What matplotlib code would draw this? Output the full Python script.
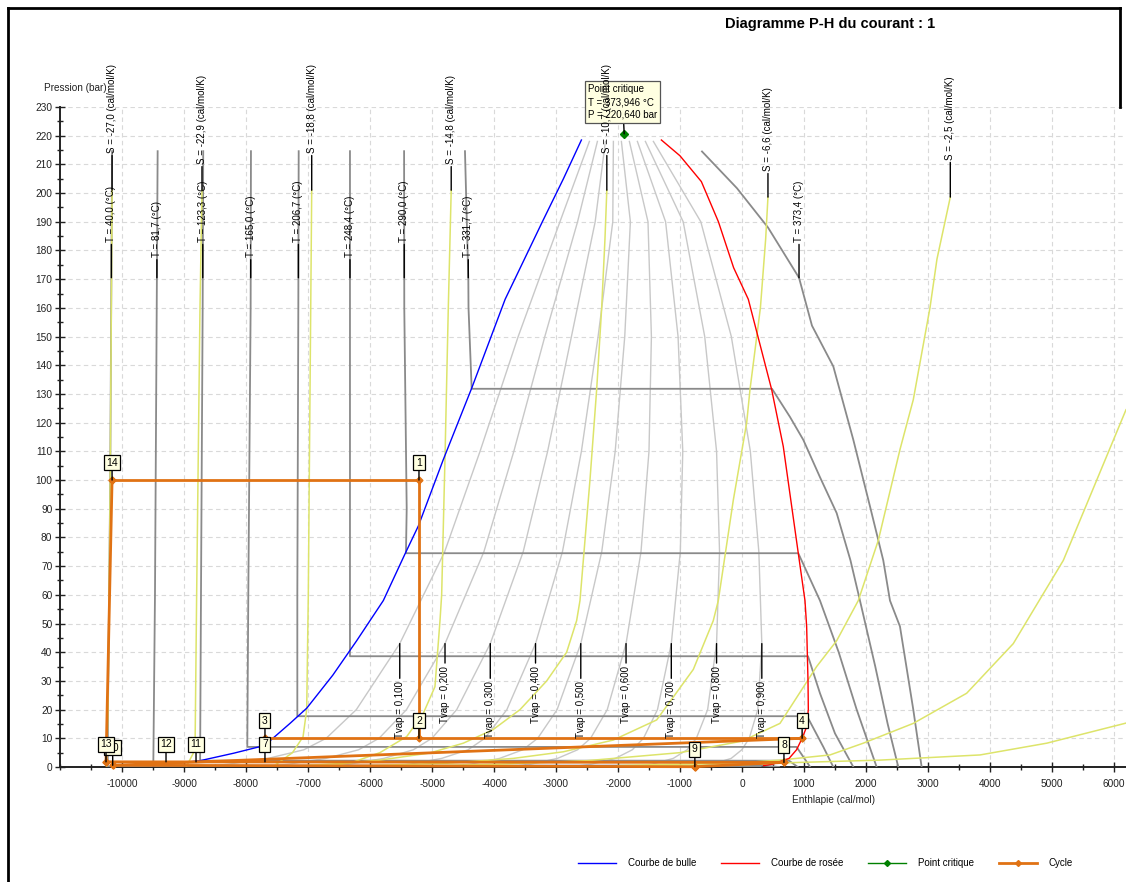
import numpy as np
import matplotlib.pyplot as plt
from matplotlib.lines import Line2D

plt.rcParams['font.family'] = ['Liberation Sans', 'DejaVu Sans']
plt.rcParams['axes.unicode_minus'] = False

# courbe de bulle / courbe de rosee (H en cal/mol, P en bar)
bulle_H = [-9500, -9120, -8740, -8200, -7700, -7290, -7020, -6600, -6215, -5785,
           -5430, -5220, -4820, -4360, -3820, -3220, -2880, -2590]
bulle_P = [0.5, 1.3, 2.2, 4.8, 7.5, 15.2, 20.5, 32, 44, 58,
           74.5, 84, 107, 132, 163, 190, 205, 218.5]
rosee_H = [350, 500, 760, 880, 970, 1043, 1070, 1065, 1043, 1016,
           908, 666, 479, 102, -135, -380, -655, -1000, -1300]
rosee_P = [0.5, 1.0, 3.0, 6.0, 10, 14, 20, 30, 49, 58,
           74.5, 111.7, 131.5, 163, 174, 190, 204, 213, 218.5]

crit_H = -1900
crit_P = 220.64

# lignes de titre vapeur
tvap = ['0,100', '0,200', '0,300', '0,400', '0,500', '0,600', '0,700', '0,800', '0,900']
tvap_P = [0.5, 1, 3, 6, 10, 20, 43, 75, 110, 150, 190, 218]
tvap_H = [
    [-8515, -8275, -7646, -7067, -6707, -6220, -5520, -4796, -4225, -3610, -2936, -2461],
    [-7530, -7300, -6712, -6184, -5854, -5411, -4790, -4163, -3680, -3180, -2652, -2332],
    [-6545, -6325, -5778, -5301, -5001, -4601, -4060, -3529, -3135, -2751, -2368, -2203],
    [-5560, -5350, -4844, -4418, -4148, -3792, -3330, -2896, -2590, -2321, -2084, -2074],
    [-4575, -4375, -3910, -3535, -3295, -2982, -2600, -2262, -2045, -1891, -1800, -1945],
    [-3590, -3400, -2976, -2652, -2442, -2173, -1870, -1629, -1500, -1461, -1516, -1816],
    [-2605, -2425, -2042, -1769, -1589, -1363, -1140, -995, -955, -1031, -1232, -1687],
    [-1620, -1450, -1108, -886, -736, -554, -410, -362, -410, -601, -948, -1558],
    [-635, -475, -174, -3, 117, 255, 320, 272, 135, -172, -664, -1429],
]

# isothermes
iso_T = ['40,0', '81,7', '123,3', '165,0', '206,7', '248,4', '290,0', '331,7', '373,4']
iso_H = [
    [-10160, -10190, -10226, -10230, 300],
    [-9425, -9440, -9468, -9495, 350, 600],
    [-8690, -8699, -8726, -8740, 760, 900],
    [-7920, -7925, -7963, -7979, 880, 1100],
    [-7150, -7156, -7172, -7172, 1050, 1312, 1473],
    [-6323, -6323, -6323, -6323, 1065, 1258, 1500, 1796],
    [-5450, -5447, -5408, -5420, 908, 1258, 1560, 1850, 2172],
    [-4468, -4414, -4411, -4360, 484, 774, 989, 1258, 1527, 1750, 1903, 2150, 2350, 2521],
    [-645, -81, 420, 920, 1129, 1473, 1796, 2065, 2279, 2387, 2548, 2763, 2898],
]
iso_P = [
    [214.6, 100, 20, 0.07, 0.07],
    [214.6, 160, 60, 0.5, 0.5, 0],
    [214.6, 160, 60, 2.2, 2.2, 0],
    [214.6, 160, 60, 7.0, 7.0, 0],
    [214.6, 160, 60, 17.7, 17.7, 7, 0],
    [214.6, 160, 60, 38.6, 38.6, 25.7, 11.7, 0],
    [214.6, 160, 90, 74.5, 74.5, 58, 40, 20, 0],
    [214.6, 170, 160, 131.8, 131.8, 122, 114, 101, 88.5, 72, 58, 35, 15, 0],
    [214.5, 201.7, 188, 170.5, 153.8, 139.6, 114, 90.8, 72, 58, 49, 20, 0],
]

# isentropes (None = sans etiquette)
ise_S = ['-27,0', '-22,9', '-18,8', '-14,8', '-10,7', '-6,6', '-2,5', None, None]
ise_H = [
    [-10160, -10190, -10226, -10250],
    [-8710, -8742, -8796, -8822, -8960],
    [-6940, -6995, -7021, -7080, -7250, -7560],
    [-4690, -4737, -4790, -4844, -4871, -4952, -5140, -5408, -5840, -6300, -6700],
    [-2180, -2210, -2263, -2344, -2452, -2613, -2667, -2828, -3150, -3580, -4016,
     -4495, -5032, -5839, -6500, -7200],
    [419, 382, 297, 129, 76, -140, -382, -463, -785, -1376, -2075, -2882, -3688,
     -4763, -6000, -7500],
    [3360, 3145, 3032, 2763, 2548, 2199, 1876, 1527, 1204, 613, 0, -1000, -2500,
     -4000, -5500],
    [6194, 5183, 4376, 3624, 2763, 1956, 1419, 613, 0, -2000],
    [6194, 4916, 3839, 2226, 613, 0, -2000],
]
ise_P = [
    [201, 100, 20, 0.2],
    [201, 160, 60, 6, 0.2],
    [201, 60, 20, 10.5, 5, 0.2],
    [201, 160, 108, 60, 51, 28, 18.7, 10.6, 5, 1.5, 0.2],
    [201, 184, 160, 131.5, 100, 58, 51, 40, 30, 20, 13, 8.3, 4.9, 2.4, 1.2, 0.3],
    [198.6, 184, 160, 131.5, 120, 93, 58, 51, 34, 16.4, 9.4, 5.3, 3, 1.3, 0.5, 0.1],
    [198.6, 177, 160, 128, 110.6, 79, 58, 44, 35, 15.2, 9, 5, 2.2, 0.9, 0.3],
    [124.5, 72, 43, 25.7, 15.2, 8.3, 4.2, 2.4, 1.5, 0.5],
    [15.3, 8.3, 4.2, 2.4, 1.4, 0.8, 0.3],
]

# cycle
cycle_num = ['1', '2', '3', '4', '7', '8', '9', '10', '11', '12', '13', '14']
cycle_H = [-5210, -5210, -7694, 970, -7694, 677, -760, -10150, -8806, -9290, -10258, -10160]
cycle_P = [100, 10, 10, 10, 1.8, 1.6, 0.1, 0.6, 1.8, 1.8, 1.8, 100]
cycle_seg = [['14', '1', '2'], ['3', '4'], ['4', '10'], ['8', '13'],
             ['14', '13'], ['8', '9'], ['9', '10']]

fig = plt.figure(figsize=(11.26, 8.82), dpi=100)
ax = fig.add_axes([60 / 1126, 115 / 882, 1066 / 1126, 660 / 882])
ax.set_xlim(-11000, 6194)
ax.set_ylim(0, 230)

ax.set_xticks(np.arange(-10000, 6001, 1000))
ax.set_xticks(np.arange(-11000, 6194, 500), minor=True)
ax.set_yticks(np.arange(0, 231, 10))
ax.set_yticks(np.arange(0, 231, 5), minor=True)
ax.tick_params(which='both', direction='inout', colors='#222222', labelsize=7.3, width=1)
ax.tick_params(which='major', length=7)
ax.tick_params(which='minor', length=5)
ax.tick_params(axis='x', pad=5)
ax.tick_params(axis='y', pad=2)
ax.grid(which='major', ls=(0, (4, 3)), color='#D9D9D9', lw=0.8, zorder=0)
ax.set_axisbelow(True)
for side in ['top', 'right']:
    ax.spines[side].set_visible(False)
for side in ['left', 'bottom']:
    ax.spines[side].set_color('#222222')
    ax.spines[side].set_linewidth(1.4)

lab_kw = dict(textcoords='offset points', rotation=90, ha='center', fontsize=7,
              annotation_clip=False, zorder=8,
              arrowprops=dict(arrowstyle='-', color='black', lw=1, shrinkA=0, shrinkB=0))

# titre vapeur
k43 = tvap_P.index(43)
for j, (lab, H) in enumerate(zip(tvap, tvap_H)):
    ax.plot(H, tvap_P, color='#C8C8C8', lw=1, zorder=2)
    dy = -27 if j % 2 == 0 else -16
    ax.annotate('Tvap = ' + lab, xy=(H[k43], 43), xytext=(0, dy), va='top', **lab_kw)

# isothermes
for i, (lab, H, P) in enumerate(zip(iso_T, iso_H, iso_P)):
    ax.plot(H, P, color='#8A8A8A', lw=1.3, zorder=3)
    Ha = np.interp(170.5, P[::-1], H[::-1])
    dy = 26 if i % 2 == 0 else 15
    ax.annotate('T = ' + lab + ' (°C)', xy=(Ha, 170.5), xytext=(0, dy), va='bottom', **lab_kw)

# isentropes
for i, (lab, H, P) in enumerate(zip(ise_S, ise_H, ise_P)):
    ax.plot(H, P, color='#DDE46A', lw=1.1, zorder=4)
    if lab is not None:
        dy = 27 if i % 2 == 0 else 19
        ax.annotate('S = ' + lab + ' (cal/mol/K)', xy=(H[0], P[0]), xytext=(0, dy),
                    va='bottom', **lab_kw)

ax.plot(bulle_H, bulle_P, color='#0000FF', lw=1, zorder=5)
ax.plot(rosee_H, rosee_P, color='#FF0000', lw=1, zorder=5)

# cycle
orange = '#E07214'
for seg in cycle_seg:
    idx = [cycle_num.index(n) for n in seg]
    ax.plot([cycle_H[k] for k in idx], [cycle_P[k] for k in idx], color=orange, lw=2,
            marker='D', ms=3.5, zorder=6, clip_on=False)

box_kw = dict(boxstyle='square,pad=0.25', fc='#FFFFE1', ec='black', lw=0.9)
for n in ['10', '1', '2', '3', '4', '7', '8', '9', '11', '12', '13', '14']:
    k = cycle_num.index(n)
    ax.annotate(n, xy=(cycle_H[k], cycle_P[k]), xytext=(0, 9), textcoords='offset points',
                ha='center', va='bottom', fontsize=7.5, bbox=box_kw, zorder=9,
                annotation_clip=False,
                arrowprops=dict(arrowstyle='-', color='black', lw=1, shrinkA=0, shrinkB=0))

# point critique (l'etiquette S passe par-dessus la boite)
ax.plot([crit_H], [crit_P], marker='D', ms=4, color='#008000', zorder=7)
ax.annotate('Point critique\nT = 373,946 °C\nP = 220,640 bar', xy=(crit_H, crit_P),
            xytext=(-26, 10), textcoords='offset points', ha='left', va='bottom',
            fontsize=7, linespacing=1.35, zorder=7.5, annotation_clip=False,
            bbox=dict(boxstyle='square,pad=0.3', fc='#FFFFE1', ec='#555555', lw=0.9),
            arrowprops=dict(arrowstyle='-', color='black', lw=1, shrinkA=0, shrinkB=0))

fig.text(830 / 1126, 1 - 24 / 882, 'Diagramme P-H du courant : 1', ha='center', va='center',
         fontsize=10.5, fontweight='bold')
fig.text(75 / 1126, 1 - 88 / 882, 'Pression (bar)', ha='center', va='center', fontsize=7.2,
         color='#222222')
fig.text(834 / 1126, 1 - 800 / 882, 'Enthlapie (cal/mol)', ha='center', va='center',
         fontsize=7.2, color='#222222')

handles = [Line2D([], [], color='#0000FF', lw=1),
           Line2D([], [], color='#FF0000', lw=1),
           Line2D([], [], color='#008000', lw=1, marker='D', ms=3),
           Line2D([], [], color=orange, lw=2, marker='D', ms=3)]
fig.legend(handles, ['Courbe de bulle', 'Courbe de rosée', 'Point critique', 'Cycle'],
           loc='center left', bbox_to_anchor=(578 / 1126, 1 - 863 / 882), ncol=4,
           frameon=False, fontsize=7, handlelength=3.9, handletextpad=1.2,
           columnspacing=2.6, borderpad=0, borderaxespad=0)

# cadre noir autour du graphique (bord droit seulement hors de la zone de trace)
x_l, x_r = 8 / 1126, 1120 / 1126
y_t, y_ax = 1 - 8 / 882, 1 - 107 / 882
for xs, ys in [([x_l, x_l], [0, y_t]), ([x_l, x_r], [y_t, y_t]), ([x_r, x_r], [y_t, y_ax])]:
    fig.add_artist(Line2D(xs, ys, transform=fig.transFigure, color='black', lw=2))

fig.savefig('out.png', dpi=100)
